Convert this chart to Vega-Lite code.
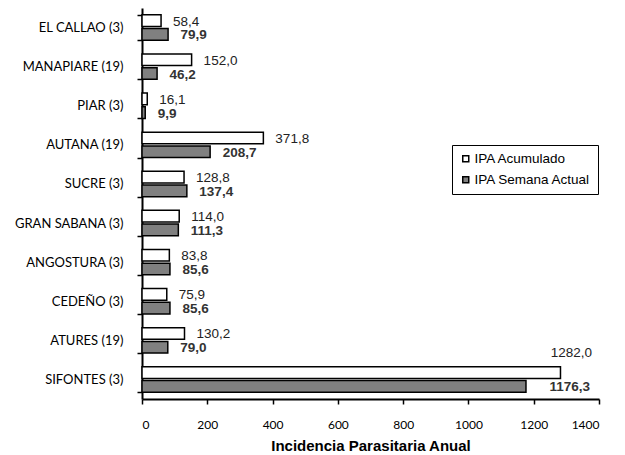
{
  "$schema": "https://vega.github.io/schema/vega-lite/v6.json",
  "width": 457,
  "height": 391,
  "autosize": "none",
  "padding": {"left": 142, "top": 8, "right": 26, "bottom": 56},
  "background": "white",
  "config": {
    "view": {"stroke": null},
    "axis": {"grid": false, "domainColor": "black", "tickColor": "black", "labelColor": "black", "titleColor": "black"}
  },
  "data": {
    "values": [
      {"cat": "EL CALLAO (3)", "serie": "IPA Acumulado", "valor": 58.4, "etiqueta": "58,4"},
      {"cat": "EL CALLAO (3)", "serie": "IPA Semana Actual", "valor": 79.9, "etiqueta": "79,9"},
      {"cat": "MANAPIARE (19)", "serie": "IPA Acumulado", "valor": 152.0, "etiqueta": "152,0"},
      {"cat": "MANAPIARE (19)", "serie": "IPA Semana Actual", "valor": 46.2, "etiqueta": "46,2"},
      {"cat": "PIAR (3)", "serie": "IPA Acumulado", "valor": 16.1, "etiqueta": "16,1"},
      {"cat": "PIAR (3)", "serie": "IPA Semana Actual", "valor": 9.9, "etiqueta": "9,9"},
      {"cat": "AUTANA (19)", "serie": "IPA Acumulado", "valor": 371.8, "etiqueta": "371,8"},
      {"cat": "AUTANA (19)", "serie": "IPA Semana Actual", "valor": 208.7, "etiqueta": "208,7"},
      {"cat": "SUCRE (3)", "serie": "IPA Acumulado", "valor": 128.8, "etiqueta": "128,8"},
      {"cat": "SUCRE (3)", "serie": "IPA Semana Actual", "valor": 137.4, "etiqueta": "137,4"},
      {"cat": "GRAN SABANA (3)", "serie": "IPA Acumulado", "valor": 114.0, "etiqueta": "114,0"},
      {"cat": "GRAN SABANA (3)", "serie": "IPA Semana Actual", "valor": 111.3, "etiqueta": "111,3"},
      {"cat": "ANGOSTURA (3)", "serie": "IPA Acumulado", "valor": 83.8, "etiqueta": "83,8"},
      {"cat": "ANGOSTURA (3)", "serie": "IPA Semana Actual", "valor": 85.6, "etiqueta": "85,6"},
      {"cat": "CEDEÑO (3)", "serie": "IPA Acumulado", "valor": 75.9, "etiqueta": "75,9"},
      {"cat": "CEDEÑO (3)", "serie": "IPA Semana Actual", "valor": 85.6, "etiqueta": "85,6"},
      {"cat": "ATURES (19)", "serie": "IPA Acumulado", "valor": 130.2, "etiqueta": "130,2"},
      {"cat": "ATURES (19)", "serie": "IPA Semana Actual", "valor": 79.0, "etiqueta": "79,0"},
      {"cat": "SIFONTES (3)", "serie": "IPA Acumulado", "valor": 1282.0, "etiqueta": "1282,0"},
      {"cat": "SIFONTES (3)", "serie": "IPA Semana Actual", "valor": 1176.3, "etiqueta": "1176,3"}
    ]
  },
  "encoding": {
    "y": {
      "field": "cat", "type": "nominal", "sort": null,
      "scale": {"paddingInner": 0.35, "paddingOuter": 0.175},
      "axis": {
        "title": null, "labelFont": "Lato", "labelFontSize": 13, "labelPadding": 14,
        "tickSize": 5, "tickWidth": 1.5, "domainWidth": 2, "tickBand": "extent"
      }
    },
    "yOffset": {
      "field": "serie", "type": "nominal",
      "scale": {"domain": ["IPA Acumulado", "IPA Semana Actual"], "paddingInner": 0.15}
    }
  },
  "layer": [
    {
      "mark": {"type": "bar", "stroke": "black", "strokeWidth": 1.5},
      "encoding": {
        "x": {
          "field": "valor", "type": "quantitative",
          "scale": {"domain": [0, 1400], "nice": false},
          "axis": {
            "values": [0, 200, 400, 600, 800, 1000, 1200, 1400], "format": "d",
            "title": "Incidencia Parasitaria Anual", "titleFont": "Liberation Sans", "titleFontSize": 15, "titleFontWeight": "bold",
            "titlePadding": 8, "labelFont": "Lato", "labelFontSize": 12, "labelPadding": 15,
            "tickSize": 5, "tickWidth": 1.5, "domainWidth": 2
          }
        },
        "fill": {
          "field": "serie", "type": "nominal",
          "scale": {"domain": ["IPA Acumulado", "IPA Semana Actual"], "range": ["white", "#808080"]},
          "legend": {
            "title": null, "orient": "none", "legendX": 310, "legendY": 137,
            "strokeColor": "black", "padding": 7, "symbolType": "square", "symbolSize": 36,
            "symbolStrokeColor": "black", "symbolStrokeWidth": 1.5, "labelFont": "Liberation Sans",
            "labelFontSize": 13.5, "labelColor": "black", "rowPadding": 6, "labelOffset": 2, "fillColor": "white"
          }
        }
      }
    },
    {
      "transform": [{"filter": "datum.cat !== 'SIFONTES (3)' && datum.serie === 'IPA Acumulado'"}],
      "mark": {"type": "text", "align": "left", "baseline": "middle", "dx": 12, "dy": 1, "font": "Liberation Sans", "fontSize": 13.5, "color": "#222"},
      "encoding": {"x": {"field": "valor", "type": "quantitative"}, "text": {"field": "etiqueta"}}
    },
    {
      "transform": [{"filter": "datum.cat !== 'SIFONTES (3)' && datum.serie === 'IPA Semana Actual'"}],
      "mark": {"type": "text", "align": "left", "baseline": "middle", "dx": 12.5, "dy": 1, "font": "Liberation Sans", "fontSize": 13.5, "fontWeight": "bold", "color": "#333"},
      "encoding": {"x": {"field": "valor", "type": "quantitative"}, "text": {"field": "etiqueta"}}
    },
    {
      "transform": [{"filter": "datum.cat === 'SIFONTES (3)' && datum.serie === 'IPA Acumulado'"}],
      "mark": {"type": "text", "align": "right", "baseline": "middle", "dx": -7, "dy": -20, "font": "Liberation Sans", "fontSize": 13.5, "color": "#222"},
      "encoding": {"x": {"datum": 1400}, "text": {"field": "etiqueta"}}
    },
    {
      "transform": [{"filter": "datum.cat === 'SIFONTES (3)' && datum.serie === 'IPA Semana Actual'"}],
      "mark": {"type": "text", "align": "right", "baseline": "middle", "dx": -9, "dy": 1, "font": "Liberation Sans", "fontSize": 13.5, "fontWeight": "bold", "color": "#333"},
      "encoding": {"x": {"datum": 1400}, "text": {"field": "etiqueta"}}
    }
  ]
}
